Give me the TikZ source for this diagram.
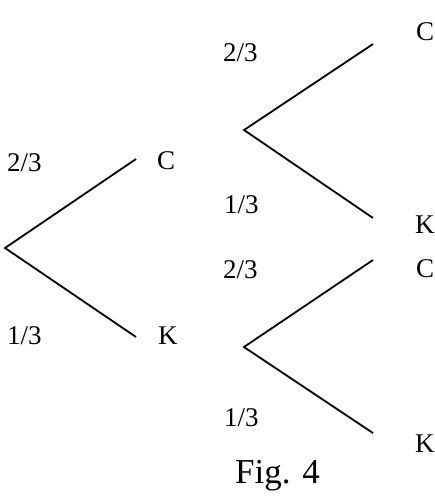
\documentclass[tikz,border=0pt]{standalone}
\usepackage{fontspec}
\setmainfont{Liberation Serif}
\tikzset{
  branch/.style={line width=1.8pt},
  prob/.style={inner sep=0pt,anchor=base west,font=\fontsize{27}{31}\selectfont},
  outc/.style={inner sep=0pt,anchor=base west,font=\fontsize{27}{31}\selectfont},
  figcap/.style={inner sep=0pt,anchor=base west,font=\fontsize{35}{40}\selectfont}
}
\begin{document}
\begin{tikzpicture}[x=1pt,y=-1pt]%
\useasboundingbox (0,0) rectangle (435,498);
% first draw
\coordinate (r) at (5,248);
\coordinate (rC) at (136,159);
\coordinate (rK) at (136,337);
\node[prob] (pC) at (7,171) {2/3};
\node[prob] (pK) at (7,344) {1/3};
\node[outc] (C) at (157,169) {C};
\node[outc] (K) at (158,344) {K};
\draw[branch] (rC) -- (r) -- (rK);
% second draw after C
\coordinate (u) at (244,130);
\coordinate (uC) at (373,44);
\coordinate (uK) at (373,218);
\node[prob] (upC) at (223,61) {2/3};
\node[prob] (upK) at (224,213) {1/3};
\node[outc] (CC) at (416,40) {C};
\node[outc] (CK) at (415,233) {K};
\draw[branch] (uC) -- (u) -- (uK);
% second draw after K
\coordinate (l) at (244,347);
\coordinate (lC) at (373,260);
\coordinate (lK) at (373,433);
\node[prob] (lpC) at (223,278) {2/3};
\node[prob] (lpK) at (224,426) {1/3};
\node[outc] (KC) at (416,277) {C};
\node[outc] (KK) at (415,452) {K};
\draw[branch] (lC) -- (l) -- (lK);
\node[figcap] (fig) at (235,483) {Fig. 4};
\end{tikzpicture}
\end{document}
